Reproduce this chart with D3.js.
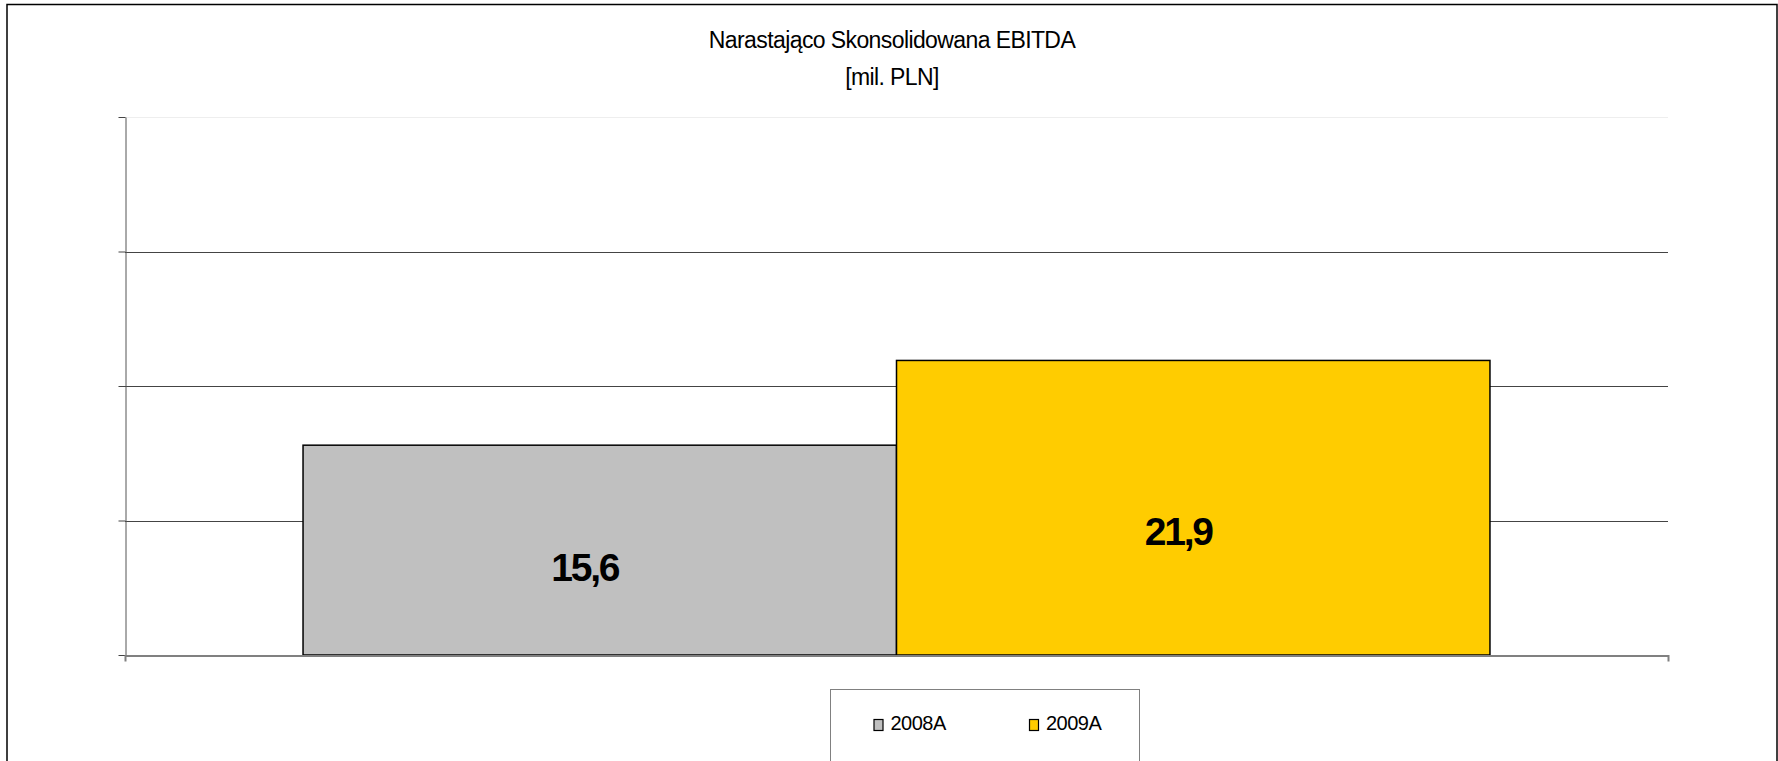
<!DOCTYPE html>
<html>
<head>
<meta charset="utf-8">
<script src="https://cdn.jsdelivr.net/npm/d3@7"></script>
<style>
  body { margin: 0; background: #fff; }
  svg { display: block; font-family: "Liberation Sans", Arial, sans-serif; }
</style>
</head>
<body>
<div id="chart"></div>
<script>
// data
var categories = [""];
var seriesNames = ["2008A", "2009A"];
var seriesValues = [15.6, 21.9];
var seriesLabels = ["15,6", "21,9"];
var seriesColors = ["#C0C0C0", "#FFCC00"];
var yTicks = [0, 10, 20, 30, 40];
var titleLines = ["Narastająco Skonsolidowana EBITDA", "[mil. PLN]"];

var width = 1778, height = 761;
var margin = {top: 117, right: 110, bottom: 106, left: 125};

var svg = d3.select("#chart").append("svg")
  .attr("width", width)
  .attr("height", height);

// outer frame
svg.append("rect")
  .attr("x", 7).attr("y", 4.5)
  .attr("width", 1770).attr("height", 780)
  .attr("fill", "none")
  .attr("stroke", "#000")
  .attr("stroke-width", 1.5);

// title
svg.append("g").selectAll("text")
  .data(titleLines)
  .enter().append("text")
  .attr("x", 892)
  .attr("y", function(d, i) { return 48 + i * 37; })
  .attr("text-anchor", "middle")
  .attr("font-size", 23)
  .attr("letter-spacing", -0.6)
  .attr("fill", "#000")
  .text(function(d) { return d; });

var x0 = d3.scaleBand()
  .domain(categories)
  .range([margin.left, width - margin.right])
  .paddingInner(0)
  .paddingOuter(0.15);

var x1 = d3.scaleBand()
  .domain(seriesNames)
  .range([0, x0.bandwidth()]);

var y = d3.scaleLinear()
  .domain([0, 40])
  .range([height - margin.bottom, margin.top]);

// gridlines
svg.append("g").selectAll("line")
  .data(yTicks.filter(function(d) { return d > 0; }))
  .enter().append("line")
  .attr("x1", margin.left).attr("x2", width - margin.right)
  .attr("y1", function(d) { return Math.round(y(d)) + 0.5; })
  .attr("y2", function(d) { return Math.round(y(d)) + 0.5; })
  .attr("stroke", function(d) { return d == 40 ? "#eeeeee" : "#444"; })
  .attr("stroke-width", 1);

// y axis
var yAxis = svg.append("g")
  .attr("transform", "translate(" + (margin.left + 0.5) + ",0)")
  .call(d3.axisLeft(y).tickValues(yTicks).tickSizeInner(7).tickSizeOuter(0).tickFormat(""));
yAxis.select(".domain").attr("stroke", "#555");
yAxis.selectAll(".tick line").attr("stroke", "#444");

// bars
var g = svg.append("g").selectAll("g")
  .data(categories)
  .enter().append("g")
  .attr("transform", function(d) { return "translate(" + x0(d) + ",0)"; });

g.selectAll("rect")
  .data(seriesNames.map(function(s, i) { return {name: s, value: seriesValues[i], color: seriesColors[i], label: seriesLabels[i]}; }))
  .enter().append("rect")
  .attr("x", function(d) { return x1(d.name); })
  .attr("y", function(d) { return y(d.value); })
  .attr("width", x1.bandwidth())
  .attr("height", function(d) { return y(0) - y(d.value); })
  .attr("fill", function(d) { return d.color; })
  .attr("stroke", "#000")
  .attr("stroke-width", 1.5);

g.selectAll("text")
  .data(seriesNames.map(function(s, i) { return {name: s, value: seriesValues[i], label: seriesLabels[i]}; }))
  .enter().append("text")
  .attr("x", function(d) { return x1(d.name) + x1.bandwidth() / 2 - 15; })
  .attr("y", function(d) { return y(d.value) + 0.58 * (y(0) - y(d.value)); })
  .attr("dy", "0.35em")
  .attr("text-anchor", "middle")
  .attr("font-size", 39)
  .attr("font-weight", "bold")
  .attr("letter-spacing", -2.2)
  .attr("fill", "#000")
  .text(function(d) { return d.label; });

// x axis
var xAxis = svg.append("g")
  .attr("transform", "translate(0," + (y(0) + 0.5) + ")")
  .call(d3.axisBottom(x0).tickSizeInner(0).tickSizeOuter(6).tickFormat(""));
xAxis.select(".domain").attr("stroke", "#808080").attr("stroke-width", 2);

// legend
var legend = svg.append("g");
legend.append("rect")
  .attr("x", 830.5).attr("y", 689.5)
  .attr("width", 309).attr("height", 100)
  .attr("fill", "#fff")
  .attr("stroke", "#808080")
  .attr("stroke-width", 1);

var legendX = d3.scalePoint().domain(seriesNames).range([873.5, 1029]);

var items = legend.selectAll("g.item")
  .data(seriesNames)
  .enter().append("g")
  .attr("class", "item")
  .attr("transform", function(d) { return "translate(" + legendX(d) + ",718)"; });

items.append("rect")
  .attr("x", 0.5).attr("y", 1.5)
  .attr("width", 9).attr("height", 11)
  .attr("fill", function(d, i) { return seriesColors[i]; })
  .attr("stroke", "#000")
  .attr("stroke-width", 1.2);

items.append("text")
  .attr("x", 17)
  .attr("y", 12)
  .attr("font-size", 20)
  .attr("letter-spacing", -0.5)
  .attr("fill", "#000")
  .text(function(d) { return d; });
</script>
</body>
</html>
